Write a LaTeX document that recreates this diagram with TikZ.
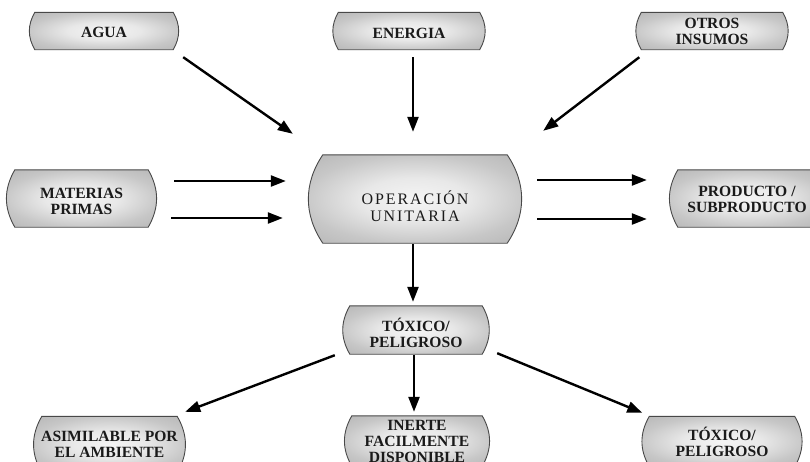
\documentclass[tikz,border=0pt]{standalone}
\usepackage{fontspec}
\setmainfont{Liberation Serif}
\usetikzlibrary{arrows.meta,backgrounds}
\definecolor{txt}{HTML}{1A1A1A}
\definecolor{edge}{HTML}{484848}
\pgfdeclareradialshading{boxshade}{\pgfpoint{0bp}{0bp}}{%
  color(0bp)=(black!4); color(12bp)=(black!9); color(25bp)=(black!22);
  color(36bp)=(black!29); color(50bp)=(black!29)}
\tikzset{
  x=1pt, y=-1pt,
  blk/.style={draw=none, inner sep=0pt},
  lbl/.style={inner sep=0pt, align=center, text=txt,
    font=\bfseries\fontsize{15.6}{16}\selectfont},
  shapeline/.style={draw=edge, line width=0.9pt, shading=boxshade},
  arr/.style={line width=2.4pt, -{Triangle[length=15pt,width=11pt]}, black}
}
% name, x, y, width, height, text dy, text
\newcommand\mkbox[7]{%
  \node[blk, minimum width=#4pt, minimum height=#5pt] (#1) at (#2,#3) {};
  \node[lbl] (#1-t) at ([shift={(0,#6)}]#1.center) {#7};}
\begin{document}
\begin{tikzpicture}
\useasboundingbox (0,0) rectangle (810,461);
\clip (0,0) rectangle (810,461);
% nodes
\mkbox{agua}{104}{31}{138}{37}{1.5}{AGUA}
\mkbox{energia}{409}{31}{141}{37}{2}{ENERGIA}
\mkbox{otros}{712}{31}{141}{37}{0.5}{OTROS\\INSUMOS}
\mkbox{mat}{81.5}{198.5}{133}{57}{2.5}{MATERIAS\\PRIMAS}
\node[blk, minimum width=184pt, minimum height=88pt] (op) at (415,199) {};
\node[lbl, font=\fontsize{16}{17}\selectfont\addfontfeature{LetterSpace=12}] (op-t)
  at ([shift={(0,7)}]op.center) {OPERACIÓN\\UNITARIA};
\mkbox{prod}{747}{198.5}{138}{57}{1}{PRODUCTO /\\SUBPRODUCTO}
\mkbox{tox}{416}{330}{132}{48}{2.5}{TÓXICO/\\PELIGROSO}
\mkbox{asim}{109.5}{444.5}{135}{56}{0}{ASIMILABLE POR\\EL AMBIENTE}
\mkbox{inerte}{417}{441}{130}{50}{0}{INERTE\\FACILMENTE\\DISPONIBLE}
\mkbox{tox2}{722}{441.5}{145}{50}{0}{TÓXICO/\\PELIGROSO}
% shapes
\begin{scope}[on background layer]
\foreach \n/\b in {agua/30, energia/30, otros/30, mat/30, op/34, prod/30, tox/30, asim/30, inerte/30, tox2/30}
  \path[shapeline, bend angle=\b] (\n.north west) to[bend right] (\n.south west) -- (\n.south east) to[bend right] (\n.north east) -- cycle;
\end{scope}
% arrows
\draw[arr] ([shift={(10,7.5)}]agua.south east) -- ([shift={(-30,-21)}]op.north west);
\draw[arr] ([shift={(4,7.5)}]energia.south) -- ([shift={(-2,-23)}]op.north);
\draw[arr] ([shift={(-2,7.5)}]otros.south west) -- ([shift={(36,-24)}]op.north east);
\draw[arr] ([shift={(26,-17.5)}]mat.east) -- ([shift={(-37,-18)}]op.west);
\draw[arr] ([shift={(23,19.5)}]mat.east) -- ([shift={(-40,19)}]op.west);
\draw[arr] ([shift={(30,-19)}]op.east) -- ([shift={(-31,-18.5)}]prod.west);
\draw[arr] ([shift={(30,20)}]op.east) -- ([shift={(-31,20.5)}]prod.west);
\draw[arr] ([shift={(-2,1)}]op.south) -- ([shift={(-3,-4)}]tox.north);
\draw[arr] ([shift={(-2,1)}]tox.south) -- ([shift={(-3,-4)}]inerte.north);
\draw[arr] ([shift={(-15,1)}]tox.south west) -- ([shift={(8,-4.5)}]asim.north east);
\draw[arr] ([shift={(15,-1)}]tox.south east) -- ([shift={(-7,-3.5)}]tox2.north west);
\end{tikzpicture}
\end{document}
